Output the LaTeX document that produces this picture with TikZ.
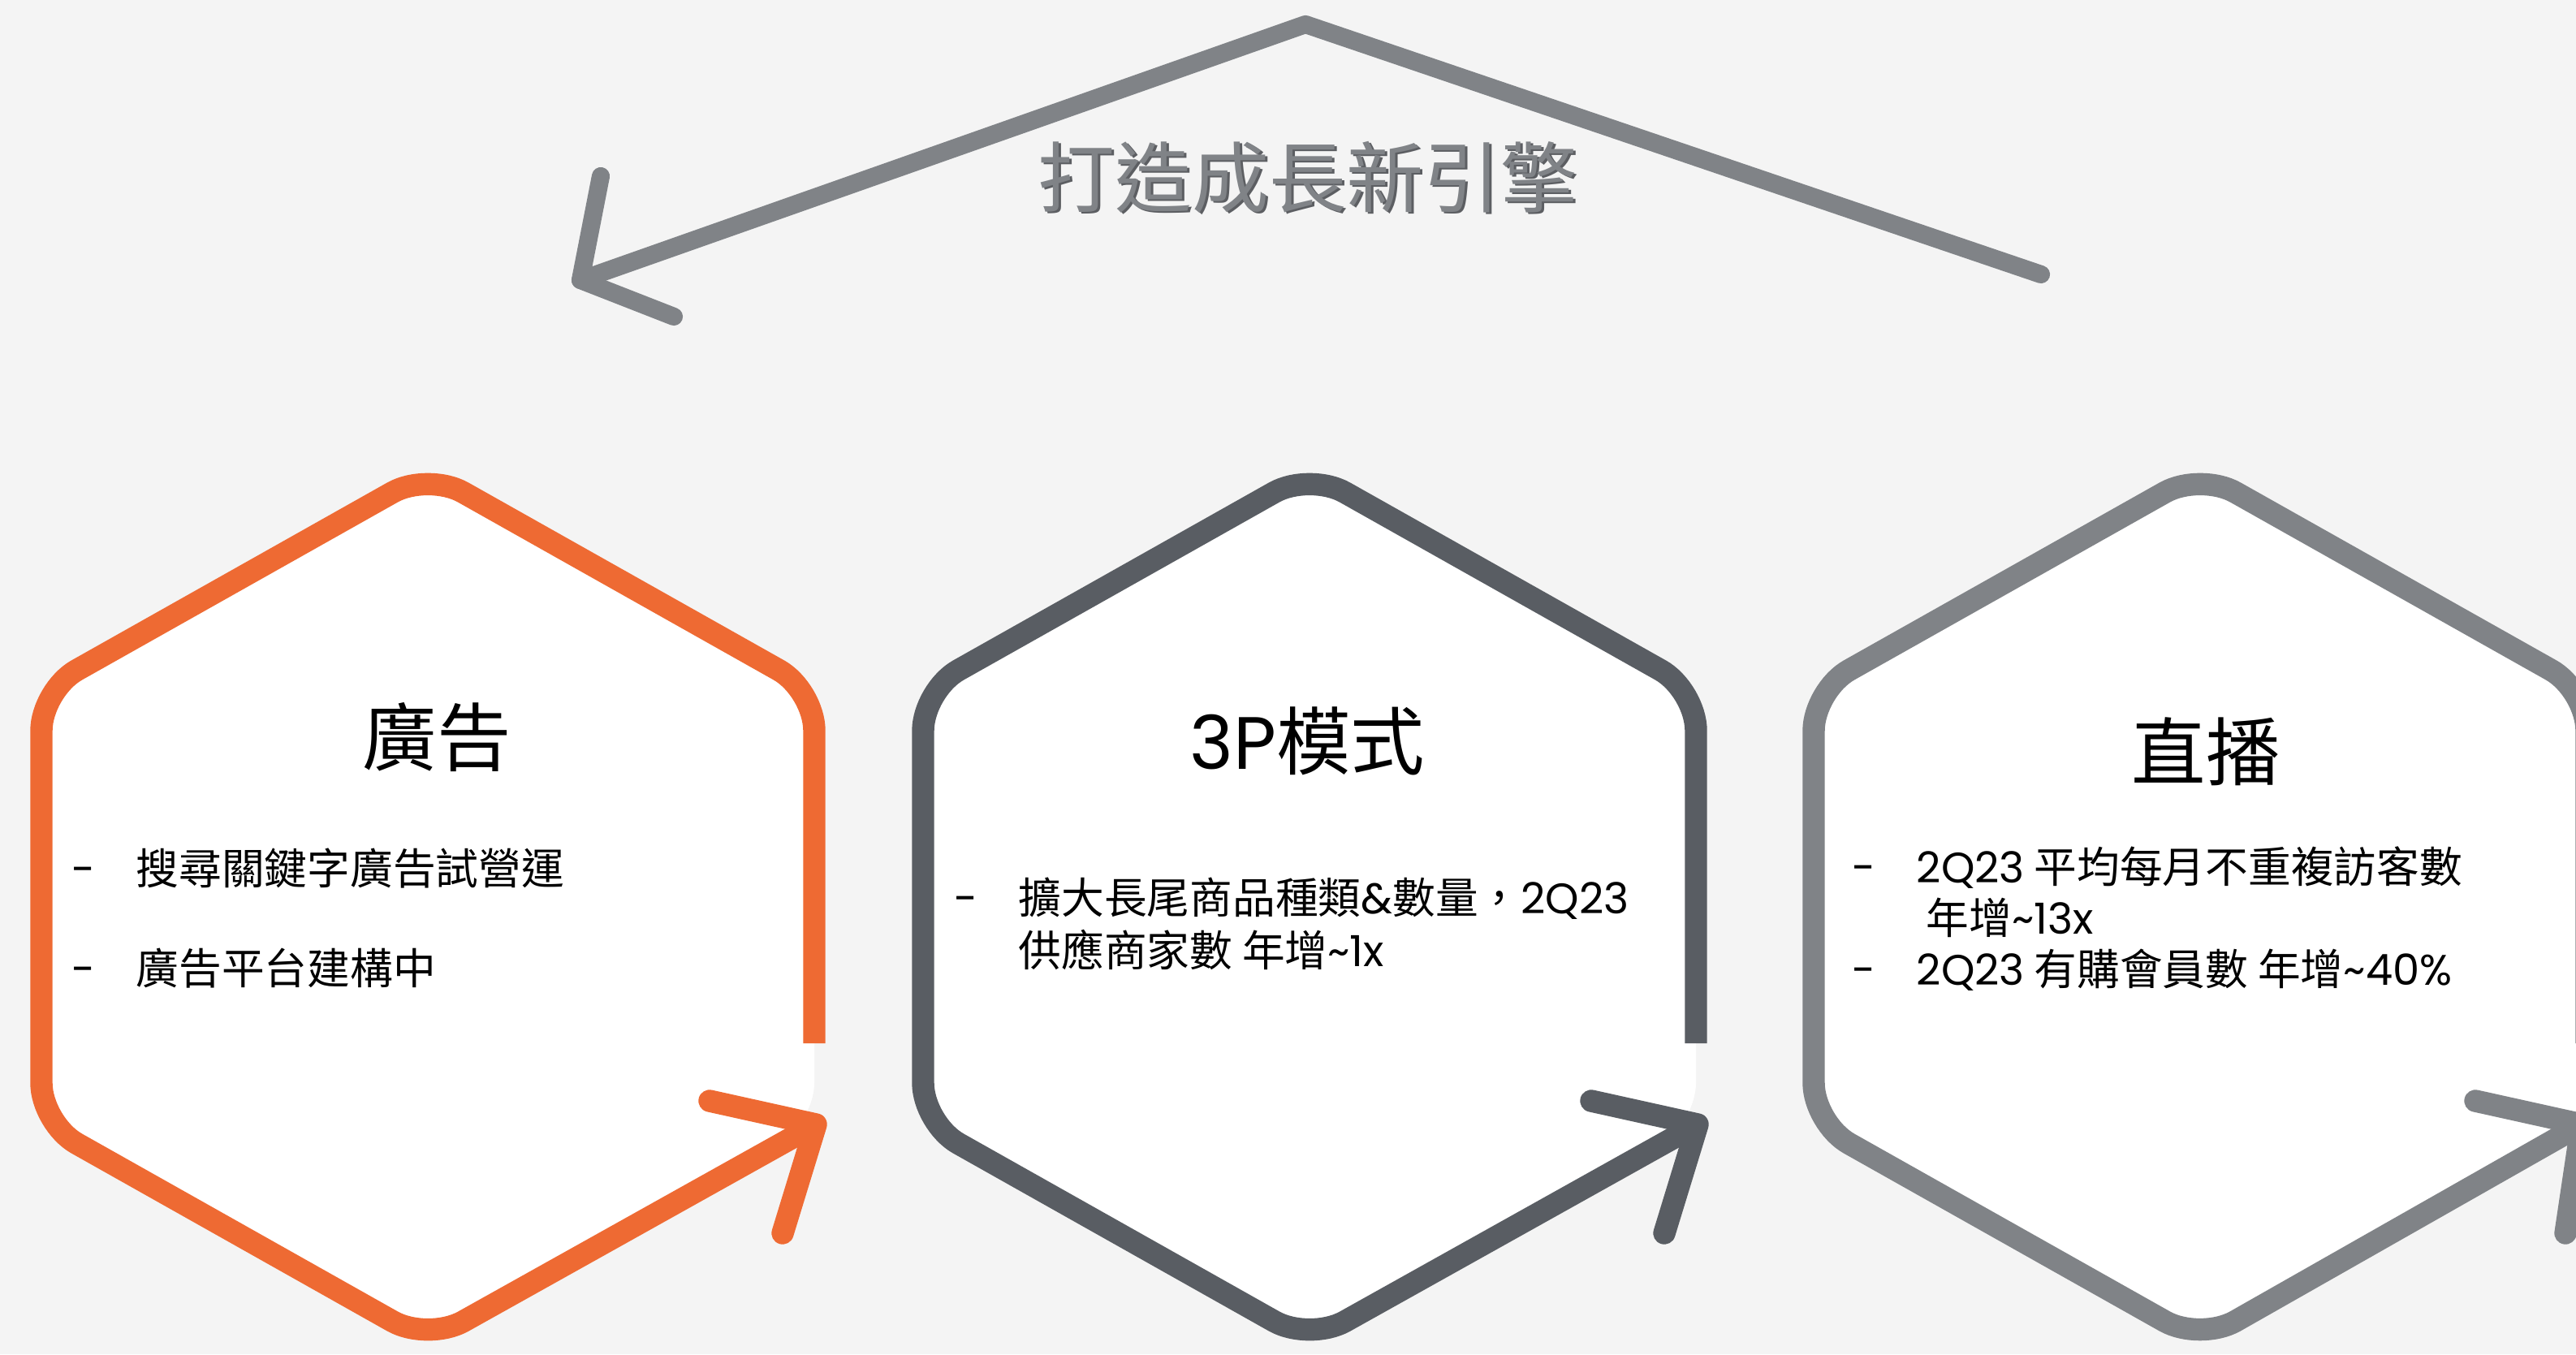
\documentclass[tikz,border=0pt]{standalone}
\usepackage{fontspec}
\setmainfont{Noto Sans CJK TC}
\newfontfamily\enfont{Poppins}
\usetikzlibrary{calc}
\definecolor{paper}{RGB}{244, 244, 244}
\definecolor{carrot}{RGB}{238, 106, 51}
\definecolor{slate}{RGB}{89, 93, 99}
\definecolor{ash}{RGB}{128, 131, 135}
\definecolor{ashdark}{RGB}{92, 94, 98}
\newcommand{\lat}[1]{{\enfont #1}}

\begin{document}
\begin{tikzpicture}[
    hexfill/.style={fill=white, rounded corners=0.5cm},
    hexline/.style={line width=7.8pt, line join=round, rounded corners=0.5cm},
    barbline/.style={line width=7.8pt, line cap=round, line join=round},
    loopline/.style={color=ash, line width=6.3pt, line cap=round, line join=round},
    head/.style={font=\fontsize{26}{30}\selectfont, inner sep=0pt},
    items/.style={anchor=base west, inner sep=0pt, font=\fontsize{15}{18}\selectfont},
    slogan/.style={font=\fontsize{27}{30}\selectfont, inner sep=0pt}]
            \useasboundingbox (0,0) rectangle (31.73,16.68);
            \fill[paper]                                                  (0.00, 0.00) rectangle (31.73,16.68);

            % growth loop arrow on top
            \coordinate (loopstart) at (25.14,13.30);
            \coordinate (looppeak)  at (16.08,16.38);
            \coordinate (looptip)   at ( 7.15,13.23);
            \draw[loopline] (loopstart) -- (looppeak) -- (looptip);
            \draw[loopline] ($(looptip)+(0.25,1.28)$) -- (looptip) -- ++(1.15,-0.45);
            \node[slogan, color=ashdark] (sloganshade) at (16.14,14.47) {打造成長新引擎};
            \node[slogan, color=ash]     (slogan)      at (16.11,14.50) {打造成長新引擎};

            % ads
            \fill[hexfill]                (10.03, 8.18) -- ( 5.27,10.86) -- ( 0.51, 8.18) -- ( 0.51, 2.84) -- ( 5.27, 0.16) -- (10.03, 2.84) -- cycle;
            \coordinate (adtip) at (10.05, 2.83);
            \draw[hexline, carrot]        (10.03, 3.83) -- (10.03, 8.18) -- ( 5.27,10.86) -- ( 0.51, 8.18) -- ( 0.51, 2.84) -- ( 5.27, 0.16) -- (adtip);
            \draw[barbline, carrot] ($(adtip)+(-1.31,0.29)$) -- (adtip) -- ++(-0.41,-1.34);
            \node[head] (adhead) at ( 5.38, 7.60) {廣告};
            \node[items] (aditems) at ( 0.88, 5.79) {\begin{tabular}[t]{@{}l@{\hspace{0.50cm}}l@{}}
                \lat{-} & 搜尋關鍵字廣告試營運\\[17pt]
                \lat{-} & 廣告平台建構中
              \end{tabular}};

            % 3P
            \fill[hexfill]                (20.89, 8.18) -- (16.13,10.86) -- (11.37, 8.18) -- (11.37, 2.84) -- (16.13, 0.16) -- (20.89, 2.84) -- cycle;
            \coordinate (tptip) at (20.91, 2.83);
            \draw[hexline, slate]         (20.89, 3.83) -- (20.89, 8.18) -- (16.13,10.86) -- (11.37, 8.18) -- (11.37, 2.84) -- (16.13, 0.16) -- (tptip);
            \draw[barbline, slate] ($(tptip)+(-1.31,0.29)$) -- (tptip) -- ++(-0.41,-1.34);
            \node[head] (tphead) at (16.10, 7.55) {\lat{3P}模式};
            \node[items] (tpitems) at (11.75, 5.42) {\begin{tabular}[t]{@{}l@{\hspace{0.50cm}}l@{}}
                \lat{-} & 擴大長尾商品種類\lat{\&}數量，\lat{2Q23}\\
                        & 供應商家數 年增\lat{\textasciitilde 1x}
              \end{tabular}};

            % live
            \fill[hexfill]                (31.86, 8.18) -- (27.10,10.86) -- (22.34, 8.18) -- (22.34, 2.84) -- (27.10, 0.16) -- (31.86, 2.84) -- cycle;
            \coordinate (livetip) at (31.80, 2.83);
            \draw[hexline, ash]           (31.86, 3.83) -- (31.86, 8.18) -- (27.10,10.86) -- (22.34, 8.18) -- (22.34, 2.84) -- (27.10, 0.16) -- (livetip);
            \draw[barbline, ash] ($(livetip)+(-1.31,0.29)$) -- (livetip) -- ++(-0.20,-1.34);
            \node[head] (livehead) at (27.17, 7.42) {直播};
            \node[items] (liveitems) at (22.81, 5.81) {\begin{tabular}[t]{@{}l@{\hspace{0.50cm}}l@{}}
                \lat{-} & \lat{2Q23} 平均每月不重複訪客數\\
                        & \ 年增\lat{\textasciitilde 13x}\\
                \lat{-} & \lat{2Q23} 有購會員數 年增\lat{\textasciitilde 40\%}
              \end{tabular}};
\end{tikzpicture}
\end{document}
